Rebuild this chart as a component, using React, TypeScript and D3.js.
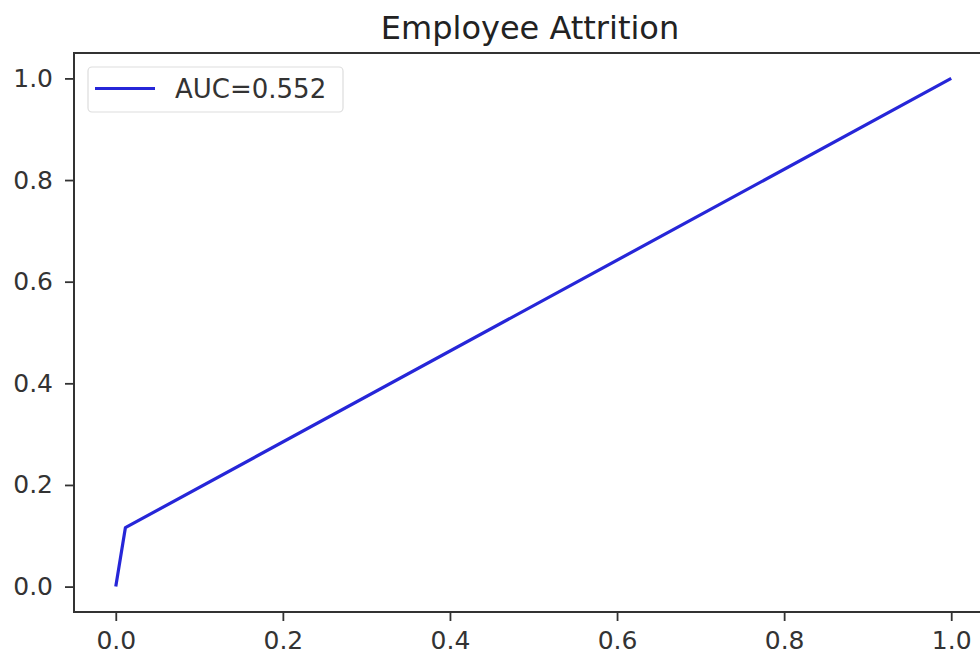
import React, { useEffect, useRef } from 'react';
import * as d3 from 'd3';

// ROC curve points
const fpr = [0, 0.0115, 1];
const tpr = [0, 0.116, 1];
const auc = 0.552;
const xTicks = [0, 0.2, 0.4, 0.6, 0.8, 1.0];
const yTicks = [0, 0.2, 0.4, 0.6, 0.8, 1.0];
const title = 'Employee Attrition';

const App = () => {
  const ref = useRef<SVGSVGElement>(null);

  useEffect(() => {
    const svg = d3.select(ref.current);
    svg.selectAll('*').remove();

    const width = 980;
    const height = 656;
    const left = 74, right = 993, top = 53, bottom = 612;

    svg.attr('width', width).attr('height', height);
    svg.append('rect').attr('width', width).attr('height', height).attr('fill', '#fff');

    const x = d3.scaleLinear().domain([-0.05, 1.05]).range([left, right]);
    const y = d3.scaleLinear().domain([-0.05, 1.05]).range([bottom, top]);

    const font = 'DejaVu Sans, sans-serif';

    // curve
    const pts = fpr.map((f, i) => [f, tpr[i]] as [number, number]);
    const line = d3.line<[number, number]>().x(d => x(d[0])).y(d => y(d[1]));
    svg.append('path')
      .attr('d', line(pts))
      .attr('fill', 'none')
      .attr('stroke', '#2626d8')
      .attr('stroke-width', 3.2)
      .attr('stroke-linejoin', 'round');

    // spines
    svg.append('rect')
      .attr('x', left).attr('y', top)
      .attr('width', right - left).attr('height', bottom - top)
      .attr('fill', 'none').attr('stroke', '#333').attr('stroke-width', 2);

    // x axis
    const xa = svg.append('g').attr('transform', `translate(0,${bottom})`)
      .call(d3.axisBottom(x).tickValues(xTicks).tickFormat(d3.format('.1f')).tickSize(9).tickPadding(10));
    xa.select('.domain').remove();
    xa.selectAll('line').attr('stroke', '#333').attr('stroke-width', 1.8);
    xa.selectAll('text').attr('font-family', font).attr('font-size', 25).attr('fill', '#333');

    // y axis
    const ya = svg.append('g').attr('transform', `translate(${left},0)`)
      .call(d3.axisLeft(y).tickValues(yTicks).tickFormat(d3.format('.1f')).tickSize(9).tickPadding(12));
    ya.select('.domain').remove();
    ya.selectAll('line').attr('stroke', '#333').attr('stroke-width', 1.8);
    ya.selectAll('text').attr('font-family', font).attr('font-size', 25).attr('fill', '#333');

    // title
    svg.append('text')
      .attr('x', 530).attr('y', 39)
      .attr('text-anchor', 'middle')
      .attr('font-family', font).attr('font-size', 32).attr('fill', '#222')
      .text(title);

    // legend
    const lg = svg.append('g');
    lg.append('rect')
      .attr('x', 88).attr('y', 67).attr('width', 255).attr('height', 45).attr('rx', 4)
      .attr('fill', '#fff').attr('stroke', '#ddd').attr('stroke-width', 1.2);
    lg.append('line')
      .attr('x1', 95).attr('x2', 155).attr('y1', 88.5).attr('y2', 88.5)
      .attr('stroke', '#2626d8').attr('stroke-width', 3.2);
    lg.append('text')
      .attr('x', 175).attr('y', 98)
      .attr('font-family', font).attr('font-size', 26).attr('fill', '#333')
      .text(`AUC=${auc}`);
  }, []);

  return <svg ref={ref} style={{ position: 'absolute', left: 0, top: 0 }}></svg>;
};

export default App;
